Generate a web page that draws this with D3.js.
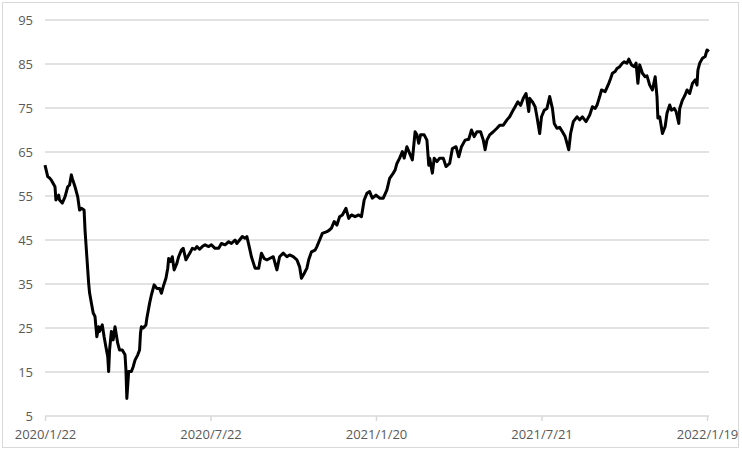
<!DOCTYPE html>
<meta charset="utf-8">
<html>
  <head>
    <script src="https://d3js.org/d3.v7.min.js"></script>
    <style>
      body{margin:0;background:#fff;}
      text{font-family:"Open Sans",sans-serif;}
    </style>
  </head>
  <body>
    <div id="chart"></div>
  <script>
    var width=742,
        height=451;

    // day offsets from 2020/1/22 and the value read at that day
    var startDate=new Date(2020,0,22);
    var dayOffsets=[0,3,5,7,11,12,15,16,19,22,25,27,29,30,33,36,38,40,43,44,
      46,48,49,51,53,55,57,59,60,63,65,67,69,70,71,73,75,77,80,82,
      85,88,89,90,92,95,97,99,102,104,105,106,108,111,112,115,117,120,123,126,
      128,130,133,135,136,138,140,142,145,147,150,152,155,158,160,162,165,167,170,173,
      176,180,183,187,191,194,198,202,205,209,211,214,217,220,222,225,227,231,235,238,
      241,244,247,251,255,258,262,266,269,273,277,280,282,285,288,290,293,297,299,302,
      305,310,313,315,318,321,324,327,331,334,337,341,345,348,351,354,357,360,364,368,
      372,376,379,383,385,387,390,393,395,398,401,404,407,409,411,413,417,420,422,423,
      426,428,431,434,438,441,445,448,452,455,458,462,466,469,472,475,479,482,484,486,
      489,493,497,500,504,508,511,514,517,520,523,526,529,532,533,536,539,541,544,546,
      549,552,555,558,560,563,566,569,572,576,578,581,585,588,591,595,599,602,605,607,
      610,612,616,620,622,624,627,629,632,635,637,640,642,645,648,650,652,654,657,660,
      662,665,668,671,673,674,676,679,682,684,687,689,692,694,697,698,701,704,706,709,
      712,715,717,718,720,723,726,728,730];
    var values=[62.0,59.4,59.1,58.6,57.1,54.1,55.2,54.1,53.4,54.8,57.1,57.5,59.8,59.0,57.1,54.8,51.8,52.2,51.8,47.3,
      41.2,35.2,33.0,30.7,28.4,27.6,23.0,25.3,24.2,25.7,23.0,20.7,18.5,15.1,20.0,24.2,22.3,25.3,21.5,20.0,
      20.0,18.9,15.5,9.0,15.1,15.1,16.2,17.7,18.9,20.0,23.8,25.3,25.0,25.7,27.2,30.6,32.5,34.8,34.0,34.0,
      32.9,34.4,36.3,38.6,40.8,40.1,41.2,38.2,39.7,41.2,42.7,43.1,40.5,41.6,42.3,43.1,42.9,43.5,42.9,43.5,
      43.9,43.5,43.9,43.1,43.1,44.2,43.9,44.6,44.2,45.0,44.2,45.0,45.8,45.4,45.8,43.1,41.2,38.6,38.6,42.0,
      40.8,40.5,40.8,41.2,38.2,41.2,42.0,41.2,41.6,41.2,40.5,38.9,36.3,37.4,38.6,40.5,42.3,42.7,43.5,45.0,
      46.5,46.9,47.3,47.7,49.2,48.4,50.3,50.7,52.2,49.9,50.7,50.3,50.7,50.3,54.1,55.6,56.0,54.5,55.2,54.5,
      54.5,56.4,59.0,60.2,60.9,62.4,63.6,65.1,63.6,66.2,64.7,63.2,69.6,68.9,67.0,68.9,68.9,67.7,62.0,63.6,
      60.2,63.6,62.8,63.6,63.6,61.7,62.4,65.8,66.2,63.9,66.2,67.7,67.9,70.0,68.5,69.6,69.6,67.7,65.5,67.7,
      68.9,69.6,70.4,71.1,71.1,72.3,73.0,74.2,75.3,76.4,75.6,77.2,78.3,74.2,77.2,76.4,75.3,73.0,69.2,73.0,
      74.5,74.9,77.6,74.9,71.5,70.4,70.6,69.6,68.5,65.5,69.2,71.9,73.0,72.3,73.0,71.9,73.4,75.3,74.9,75.6,
      77.6,79.1,78.7,80.6,81.7,82.9,83.3,84.0,84.4,85.2,85.5,85.2,86.1,84.8,84.4,85.2,80.6,84.8,82.9,82.1,
      82.3,80.2,79.1,82.1,77.6,72.7,73.0,69.2,70.8,73.8,75.7,74.5,74.9,74.2,71.5,74.9,76.8,78.0,79.1,78.3,
      80.6,81.4,80.2,83.6,85.2,86.3,86.7,88.2,87.8];
    var yTicks=[5,15,25,35,45,55,65,75,85,95];
    var xTickDates=["2020/1/22","2020/7/22","2021/1/20","2021/7/21","2022/1/19"];

    var parseDate=d3.timeParse("%Y/%-m/%-d");
    var data=dayOffsets.map(function(d,i){
      return {date:d3.timeDay.offset(startDate,d),value:values[i]};
    });

    var svg=d3.select("#chart").append("svg")
      .attr("width",width)
      .attr("height",height);

    // outer frame
    svg.append("rect")
      .attr("x",2.5).attr("y",2.5)
      .attr("width",736).attr("height",445)
      .attr("fill","#fff")
      .attr("stroke","#d9d9d9");

    var x=d3.scaleTime()
      .domain([parseDate(xTickDates[0]),parseDate(xTickDates[4])])
      .range([45,707]);
    var y=d3.scaleLinear()
      .domain([5,95])
      .range([416,20]);

    // gridlines
    svg.append("g").selectAll("line")
      .data(yTicks.slice(1)).enter().append("line")
      .attr("x1",45).attr("x2",709)
      .attr("y1",function(d){return y(d)})
      .attr("y2",function(d){return y(d)})
      .attr("stroke","#d9d9d9")
      .attr("stroke-width",1.5);

    // y labels
    svg.append("g").selectAll("text")
      .data(yTicks).enter().append("text")
      .attr("x",33)
      .attr("y",function(d){return y(d)})
      .attr("dy","0.35em")
      .attr("text-anchor","end")
      .attr("fill","#595959")
      .style("font-size","13px")
      .text(function(d){return d});

    // x axis
    var xAxis=d3.axisBottom(x)
      .tickValues(xTickDates.map(parseDate))
      .tickFormat(d3.timeFormat("%Y/%-m/%-d"))
      .tickSize(5)
      .tickSizeOuter(0);
    var gx=svg.append("g")
      .attr("transform","translate(0,416)")
      .call(xAxis);
    gx.select(".domain").attr("stroke","#d9d9d9").attr("stroke-width",1.5)
      .attr("d","M45,0H709");
    gx.selectAll(".tick line").attr("stroke","#d9d9d9").attr("stroke-width",1.5);
    gx.selectAll(".tick text")
      .attr("fill","#595959")
      .attr("dy",0)
      .attr("y",23)
      .style("font-size","13px")
      .style("font-family","'Open Sans',sans-serif");

    // series line
    var line=d3.line()
      .x(function(d){return x(d.date)})
      .y(function(d){return y(d.value)});
    svg.append("path")
      .datum(data)
      .attr("d",line)
      .attr("fill","none")
      .attr("stroke","#000")
      .attr("stroke-width",3)
      .attr("stroke-linejoin","round");
  </script>
  </body>
</html>
